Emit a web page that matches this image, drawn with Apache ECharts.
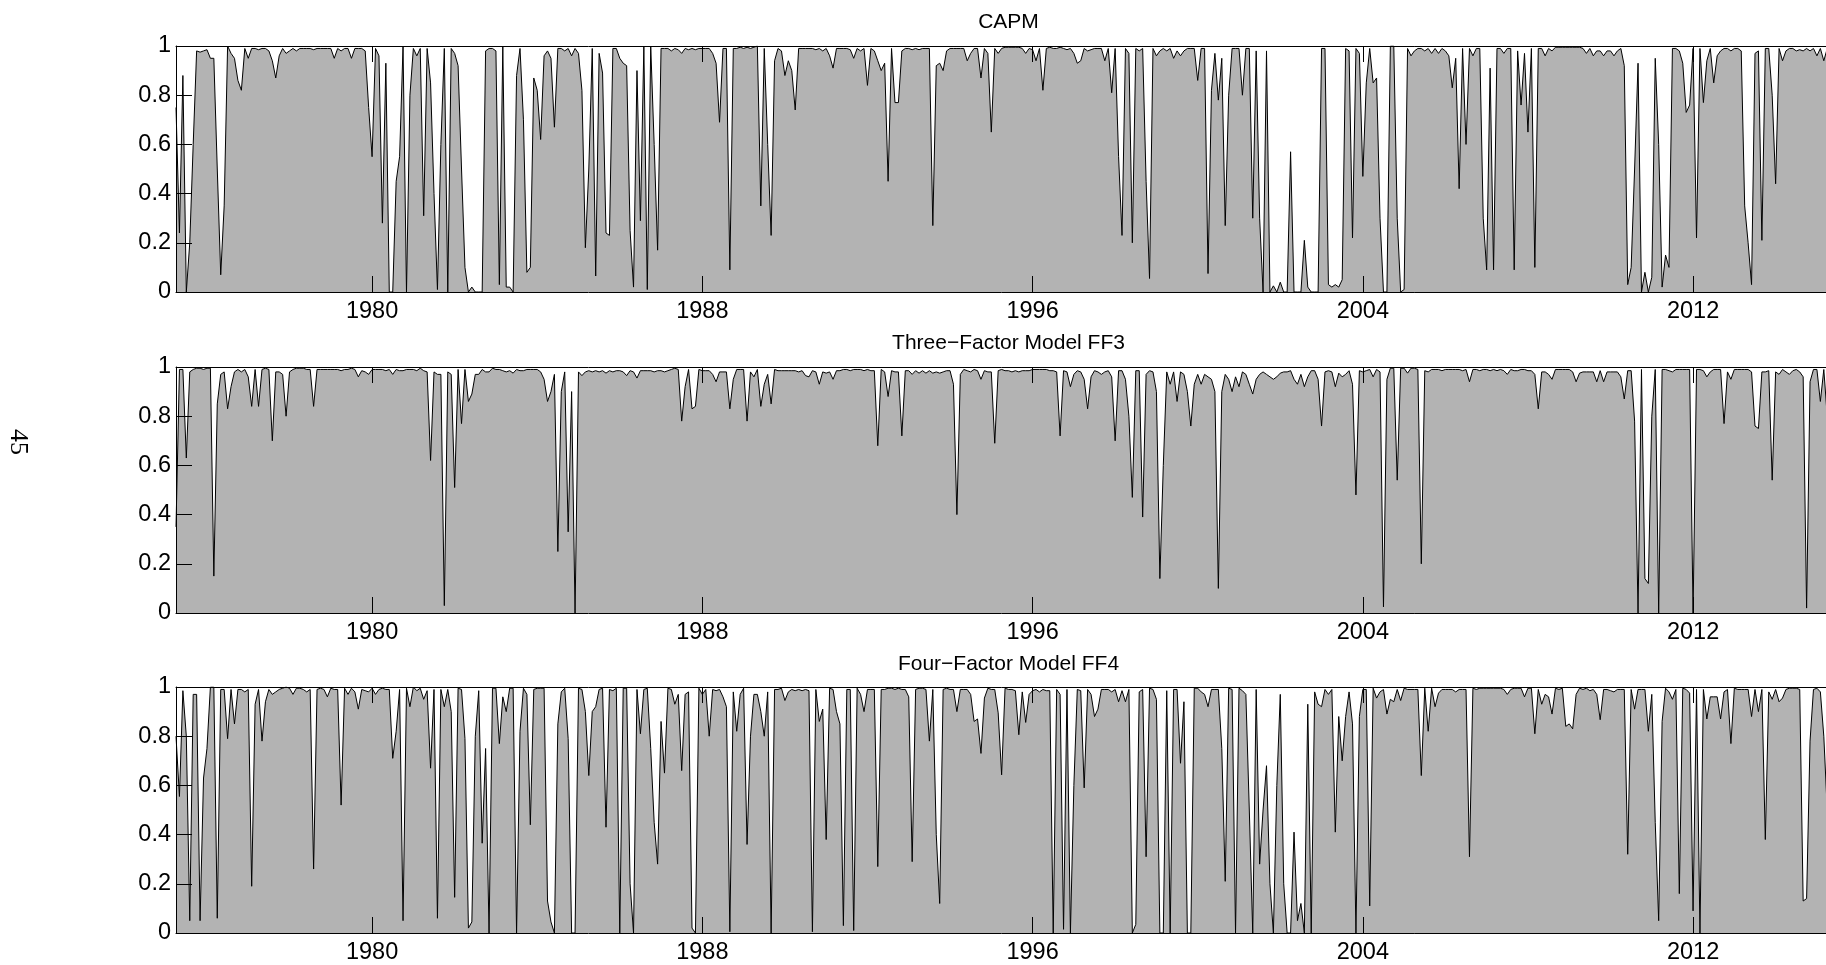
<!DOCTYPE html>
<html><head><meta charset="utf-8">
<script src="https://cdn.jsdelivr.net/npm/echarts@6/dist/echarts.min.js"></script>
<style>html,body{margin:0;padding:0;background:#fff;overflow:hidden}#c{width:1826px;height:965px}</style>
</head><body><div id="c"></div>
<script>
// ---- data ----
const startYear = 1975;
const startMonth = 4;          // first observation: April 1975 (monthly)
const monthsSpan = 484;        // x-axis span in months
const xTickYears = [1980, 1988, 1996, 2004, 2012];
const yTickValues = [0, 0.2, 0.4, 0.6, 0.8, 1];
const panelTitles = ['CAPM', 'Three\u2212Factor Model FF3', 'Four\u2212Factor Model FF4'];
const pageNumber = '45';

const capm = [
0.75,0.24,0.88,0,0.2,0.6,0.98,0.975,0.98,0.985,0.95,0.95,
0.5,0.07,0.35,1,0.97,0.95,0.86,0.82,0.99,0.95,0.99,0.99,
0.985,0.99,0.99,0.98,0.94,0.87,0.96,0.99,0.97,0.98,0.99,0.98,
0.99,0.99,0.99,0.99,0.985,0.99,0.99,0.99,0.99,0.99,0.95,0.99,
0.98,0.99,0.99,0.95,0.99,0.99,0.99,0.98,0.75,0.55,0.99,0.96,
0.28,0.93,0,0,0.45,0.55,1,0,0.8,0.99,0.96,0.99,
0.31,0.99,0.85,0.4,0.01,0.6,0.99,0,0.99,0.97,0.92,0.5,
0.1,0,0.02,0,0,0,0.98,0.99,0.99,0.98,0.03,1,
0.02,0.02,0,0.88,0.99,0.7,0.08,0.1,0.87,0.82,0.62,0.96,
0.98,0.95,0.67,0.99,0.99,0.98,0.99,0.96,0.99,0.97,0.82,0.18,
0.5,0.99,0.065,0.97,0.89,0.24,0.23,0.99,0.99,0.95,0.93,0.92,
0.25,0.02,0.9,0.29,1,0.01,1,0.6,0.17,0.99,0.99,0.99,
0.98,0.99,0.985,0.97,0.99,0.985,0.99,0.985,0.99,0.99,0.99,0.99,
0.97,0.93,0.69,0.99,0.99,0.09,0.99,0.99,0.995,0.99,0.995,0.99,
0.995,1,0.35,0.99,0.6,0.23,0.94,0.99,0.98,0.88,0.94,0.9,
0.74,0.99,0.99,0.99,0.99,0.99,0.985,0.99,0.98,0.99,0.96,0.91,
0.99,0.99,0.99,0.99,0.985,0.95,0.99,0.98,0.99,0.84,0.99,0.98,
0.94,0.9,0.93,0.45,0.99,0.77,0.77,0.98,0.99,0.99,0.985,0.99,
0.985,0.99,0.99,0.99,0.27,0.92,0.93,0.9,0.98,0.99,0.99,0.99,
0.99,0.99,0.94,0.97,0.99,0.99,0.87,0.99,0.97,0.65,0.99,0.97,
0.99,0.995,0.995,0.995,0.995,0.995,0.99,0.97,0.99,0.985,0.94,0.99,
0.82,0.99,0.995,0.99,0.99,0.995,0.99,0.985,0.99,0.97,0.93,0.94,
0.99,0.98,0.985,0.99,0.99,0.99,0.94,0.99,0.81,0.99,0.55,0.23,
0.99,0.97,0.2,0.99,0.98,0.99,0.45,0.055,0.99,0.96,0.98,0.99,
0.98,0.99,0.95,0.98,0.96,0.98,0.99,0.99,0.99,0.86,0.99,0.99,
0.075,0.82,0.97,0.78,0.95,0.27,0.8,0.99,0.99,0.99,0.8,0.99,
0.99,0.3,0.98,0.3,0,0.98,0,0.025,0,0.04,0,0,
0.57,0,0,0,0.21,0.02,0,0,0,0.99,0.99,0.03,
0.02,0.03,0.02,0.05,0.99,0.98,0.22,0.99,0.97,0.47,0.85,0.99,
0.85,0.87,0.3,0,0,1,1,0.3,0,0.01,0.99,0.96,
0.98,0.99,0.99,0.98,0.99,0.97,0.99,0.97,0.99,0.98,0.96,0.83,
0.95,0.42,0.99,0.6,0.99,0.96,0.99,0.99,0.3,0.09,0.91,0.09,
0.99,0.99,0.97,0.99,0.99,0.09,0.98,0.76,0.97,0.65,0.99,0.1,
0.99,0.99,0.96,0.99,0.98,0.995,0.995,0.995,0.995,0.995,0.995,0.995,
0.995,0.99,0.97,0.99,0.96,0.98,0.98,0.96,0.98,0.98,0.96,0.98,
0.99,0.92,0.03,0.1,0.5,0.93,0,0.08,0,0.06,0.95,0.6,
0.02,0.15,0.1,0.99,0.99,0.98,0.93,0.73,0.76,0.99,0.22,0.99,
0.77,0.94,0.99,0.85,0.96,0.98,0.99,0.99,0.98,0.99,0.99,0.98,
0.35,0.2,0.03,0.97,0.98,0.21,0.99,0.99,0.8,0.44,0.99,0.94,
0.98,0.99,0.99,0.98,0.985,0.98,0.99,0.98,0.99,0.96,0.99,0.94,
0.99
];

const ff3 = [
0.35,0.99,0.99,0.63,0.98,0.99,0.995,0.995,0.99,0.995,0.995,0.15,
0.85,0.97,0.98,0.83,0.92,0.98,0.99,0.98,0.99,0.96,0.84,0.99,
0.84,0.99,0.995,0.99,0.7,0.98,0.98,0.97,0.8,0.98,0.99,0.995,
0.995,0.995,0.99,0.99,0.84,0.99,0.99,0.99,0.99,0.99,0.99,0.99,
0.985,0.99,0.99,0.995,0.99,0.96,0.985,0.98,0.97,0.99,0.99,0.99,
0.99,0.985,0.99,0.97,0.99,0.985,0.985,0.99,0.99,0.99,0.985,0.995,
0.985,0.98,0.62,0.98,0.97,0.97,0.03,0.98,0.97,0.51,0.99,0.77,
0.99,0.86,0.89,0.97,0.97,0.99,0.98,0.98,0.995,0.99,0.99,0.985,
0.98,0.985,0.975,0.99,0.985,0.985,0.99,0.99,0.99,0.99,0.98,0.95,
0.86,0.9,0.97,0.25,0.9,0.98,0.33,0.9,0,0.98,0.965,0.98,
0.985,0.98,0.985,0.98,0.985,0.975,0.985,0.98,0.985,0.985,0.98,0.965,
0.985,0.98,0.955,0.985,0.985,0.985,0.985,0.98,0.985,0.985,0.98,0.985,
0.99,0.995,0.99,0.78,0.92,0.99,0.83,0.84,0.99,0.985,0.985,0.985,
0.97,0.94,0.98,0.98,0.98,0.83,0.95,0.99,0.99,0.99,0.78,0.98,
0.96,0.99,0.84,0.93,0.97,0.85,0.99,0.985,0.985,0.985,0.985,0.985,
0.985,0.98,0.985,0.965,0.96,0.985,0.98,0.93,0.98,0.975,0.98,0.95,
0.985,0.985,0.99,0.99,0.985,0.99,0.99,0.99,0.985,0.99,0.985,0.985,
0.68,0.99,0.98,0.88,0.985,0.98,0.98,0.72,0.985,0.985,0.97,0.985,
0.975,0.985,0.975,0.985,0.975,0.98,0.975,0.98,0.985,0.985,0.93,0.4,
0.97,0.99,0.985,0.98,0.99,0.985,0.95,0.985,0.98,0.98,0.69,0.985,
0.99,0.985,0.985,0.98,0.985,0.98,0.985,0.985,0.985,0.99,0.99,0.99,
0.99,0.99,0.985,0.985,0.98,0.72,0.985,0.98,0.92,0.97,0.985,0.98,
0.95,0.83,0.96,0.985,0.98,0.97,0.98,0.985,0.96,0.7,0.985,0.985,
0.95,0.8,0.47,0.985,0.985,0.39,0.97,0.985,0.98,0.9,0.14,0.6,
0.98,0.93,0.98,0.86,0.98,0.97,0.9,0.76,0.93,0.97,0.93,0.97,
0.96,0.95,0.9,0.1,0.9,0.97,0.95,0.9,0.96,0.92,0.98,0.97,
0.93,0.89,0.95,0.97,0.98,0.97,0.96,0.95,0.96,0.975,0.98,0.98,
0.985,0.95,0.93,0.97,0.92,0.96,0.985,0.985,0.95,0.76,0.98,0.985,
0.98,0.92,0.975,0.96,0.97,0.985,0.93,0.48,0.985,0.98,0.985,0.99,
0.96,0.99,0.98,0.025,0.95,0.995,0.995,0.54,0.995,0.995,0.975,0.995,
0.995,0.99,0.2,0.985,0.98,0.99,0.99,0.99,0.985,0.99,0.99,0.99,
0.99,0.99,0.985,0.99,0.94,0.99,0.99,0.985,0.99,0.99,0.985,0.99,
0.985,0.99,0.985,0.97,0.99,0.985,0.985,0.99,0.99,0.985,0.985,0.97,
0.83,0.98,0.98,0.97,0.95,0.99,0.99,0.99,0.99,0.99,0.98,0.94,
0.975,0.98,0.98,0.98,0.98,0.94,0.985,0.94,0.98,0.98,0.98,0.98,
0.96,0.87,0.985,0.985,0.78,0,0.99,0.14,0.12,0.8,0.99,0,
0.99,0.99,0.985,0.98,0.99,0.99,0.99,0.99,0.99,0,0.99,0.99,
0.985,0.96,0.98,0.99,0.99,0.99,0.77,0.98,0.95,0.99,0.99,0.99,
0.99,0.99,0.98,0.76,0.75,0.98,0.98,0.985,0.54,0.98,0.97,0.99,
0.98,0.97,0.985,0.99,0.98,0.96,0.02,0.94,0.99,0.99,0.86,0.99,
0.8
];

const ff4 = [
0.8,0.555,0.985,0.8,0.05,0.97,0.97,0.05,0.63,0.75,1,1,
0.06,0.99,0.99,0.79,0.99,0.85,0.99,0.99,0.98,0.99,0.19,0.93,
0.99,0.78,0.94,0.99,0.97,0.98,0.99,0.995,1,0.995,0.97,0.995,
0.995,0.99,0.98,0.99,0.26,0.99,0.995,0.99,0.96,0.995,0.99,0.99,
0.52,0.995,0.97,0.995,0.98,0.91,0.99,0.985,0.98,0.995,0.97,0.99,
0.995,0.99,0.99,0.71,0.82,0.99,0.05,0.995,0.92,1,0.985,0.995,
0.95,0.985,0.67,0.99,0.06,0.99,0.92,0.99,0.9,0.145,0.995,0.99,
0.79,0.02,0.045,0.8,0.985,0.365,0.75,0,0.995,0.995,0.77,0.96,
0.9,0.995,0.995,0,0.82,0.995,0.97,0.44,0.99,0.995,0.995,0.995,
0.13,0.045,0,0.85,0.98,0.995,0.79,0,0,0.995,0.99,0.9,
0.64,0.9,0.92,0.99,0.995,0.43,0.99,0.985,0.995,0,0.995,0.995,
0.2,0,0.99,0.81,0.99,0.995,0.75,0.45,0.28,0.86,0.65,0.995,
0.99,0.93,0.97,0.66,0.97,0.98,0.02,0,0.995,0.97,0.99,0.8,
0.99,0.985,0.99,0.96,0.92,0.005,0.98,0.82,0.97,0.995,0.36,0.8,
0.97,0.97,0.9,0.8,0.98,0,0.99,0.99,0.995,0.945,0.98,0.99,
0.985,0.99,0.985,0.99,0.985,0.005,0.99,0.86,0.91,0.38,0.995,0.99,
0.9,0.85,0.03,0.99,0.99,0.01,0.995,0.97,0.9,0.99,0.99,0.99,
0.27,0.99,0.99,0.995,0.995,0.99,0.995,0.99,0.99,0.96,0.29,0.99,
0.995,0.995,0.99,0.78,0.99,0.4,0.12,0.99,0.995,0.99,0.99,0.9,
0.99,0.99,0.99,0.97,0.86,0.87,0.73,0.955,0.995,0.99,0.99,0.895,
0.643,0.995,0.99,0.99,0.985,0.806,0.98,0.856,0.97,0.985,0.99,0.98,
0.99,0.985,0.985,0,0.99,0.97,0.015,0.99,0,0.6,0.99,0.985,
0.59,0.99,0.97,0.88,0.91,0.99,0.99,0.99,0.98,0.99,0.94,0.985,
0.94,0.99,0,0.035,0.98,0.99,0.31,0.995,0.99,0.95,0,0,
0.985,0,0.99,0.99,0.69,0.94,0,0,0.995,0.995,0.98,0.97,
0.92,0.99,0.99,0.99,0.75,0.21,0.995,0.99,0,0.995,0.985,0.97,
0.5,0,0.99,0.28,0.5,0.68,0.2,0,0.6,0.97,0.2,0,
0,0.41,0.05,0.12,0,0.93,0,0.98,0.93,0.92,0.99,0.97,
0.99,0.41,0.88,0.7,0.88,0.98,0.85,0,0.88,0.99,0.99,0.11,
0.995,0.955,0.98,0.99,0.89,0.95,0.94,0.99,0.945,0.995,0.99,0.99,
0.99,0.99,0.64,0.995,0.82,0.995,0.92,0.975,0.99,0.99,0.99,0.99,
0.98,0.99,0.99,0.99,0.31,0.995,0.99,0.995,0.995,0.995,0.995,0.995,
0.995,0.995,0.99,0.97,0.99,0.995,0.995,0.995,0.96,0.995,0.995,0.81,
0.99,0.93,0.97,0.96,0.89,0.995,0.99,0.995,0.84,0.85,0.83,0.97,
0.995,0.99,0.995,0.985,0.99,0.97,0.867,0.99,0.99,0.985,0.98,0.99,
0.99,0.99,0.32,0.99,0.91,0.99,0.99,0.99,0.82,0.97,0.45,0.05,
0.86,0.995,0.98,0.95,0.99,0.16,0.995,0.99,0.975,0.09,0.99,0,
0.99,0.87,0.96,0.96,0.96,0.87,0.98,0.99,0.77,0.995,0.99,0.99,
0.99,0.99,0.88,0.99,0.9,0.99,0.38,0.98,0.95,0.99,0.94,0.955,
0.99,0.995,0.995,0.995,0.99,0.13,0.14,0.78,0.99,0.995,0.98,0.8,
0.5
];

// ---- chart ----
const seriesValues = [capm, ff3, ff4];
const xMin = startYear + (startMonth - 1) / 12;
const xMax = xMin + monthsSpan / 12;
const toPoints = arr => arr.map((v, i) => [xMin + i / 12, v]);

const FONT = '"Liberation Sans", Arial, Helvetica, sans-serif';
const gridLeft = 176, gridRight = -15, gridHeight = 246;
const gridTops = [46, 367, 687];
const titleY = [22, 343, 664];
const tickLen = 16;
const tickFont = 23.5;

const grids = [], xAxes = [], yAxes = [], series = [], graphics = [];
gridTops.forEach((top, k) => {
  grids.push({ left: gridLeft, right: gridRight, top: top, height: gridHeight,
               containLabel: false, outerBoundsMode: 'none', show: false });
  const common = {
    type: 'value', gridIndex: k, min: xMin, max: xMax, z: 10,
    splitLine: { show: false },
    axisLine: { show: true, onZero: false, lineStyle: { color: '#000', width: 1 } },
    axisTick: { show: true, inside: true, length: tickLen, customValues: xTickYears,
                lineStyle: { color: '#000', width: 1 } }
  };
  xAxes.push(Object.assign({}, common, {
    position: 'bottom',
    axisLabel: { show: true, customValues: xTickYears, margin: 8, color: '#000',
                 fontSize: tickFont, fontFamily: FONT, formatter: v => String(Math.round(v)) }
  }));
  xAxes.push(Object.assign({}, common, {
    position: 'top', axisLabel: { show: false }
  }));
  yAxes.push({
    type: 'value', gridIndex: k, min: 0, max: 1, interval: 0.2, z: 10,
    splitLine: { show: false },
    axisLine: { show: true, onZero: false, lineStyle: { color: '#000', width: 1 } },
    axisTick: { show: true, inside: true, length: tickLen, customValues: yTickValues,
                lineStyle: { color: '#000', width: 1 } },
    axisLabel: { show: true, customValues: yTickValues, margin: 5, color: '#000',
                 fontSize: tickFont, fontFamily: FONT, showMinLabel: true, showMaxLabel: true,
                 formatter: v => String(Math.round(v * 10) / 10) }
  });
  series.push({
    type: 'line', xAxisIndex: k * 2, yAxisIndex: k,
    data: toPoints(seriesValues[k]),
    symbol: 'none', showSymbol: false, smooth: false, silent: true,
    lineStyle: { color: '#000', width: 1 },
    areaStyle: { color: '#b3b3b3', opacity: 1, origin: 'start' },
    z: 2
  });
  graphics.push({
    type: 'text', x: gridLeft + (1826 - gridLeft - gridRight) / 2, y: titleY[k],
    style: { text: panelTitles[k], fill: '#000', font: '21px ' + FONT,
             align: 'center', verticalAlign: 'middle',
             textAlign: 'center', textVerticalAlign: 'middle' }
  });
});
graphics.push({
  type: 'text', x: 18, y: 442, rotation: -Math.PI / 2,
  style: { text: pageNumber, fill: '#000', font: '26px "Liberation Serif", "DejaVu Serif", serif',
           align: 'center', verticalAlign: 'middle',
           textAlign: 'center', textVerticalAlign: 'middle' }
});

const chart = echarts.init(document.getElementById('c'), null, { renderer: 'canvas' });
chart.setOption({
  animation: false,
  backgroundColor: '#fff',
  grid: grids, xAxis: xAxes, yAxis: yAxes, series: series,
  graphic: graphics
});
</script>
</body></html>
